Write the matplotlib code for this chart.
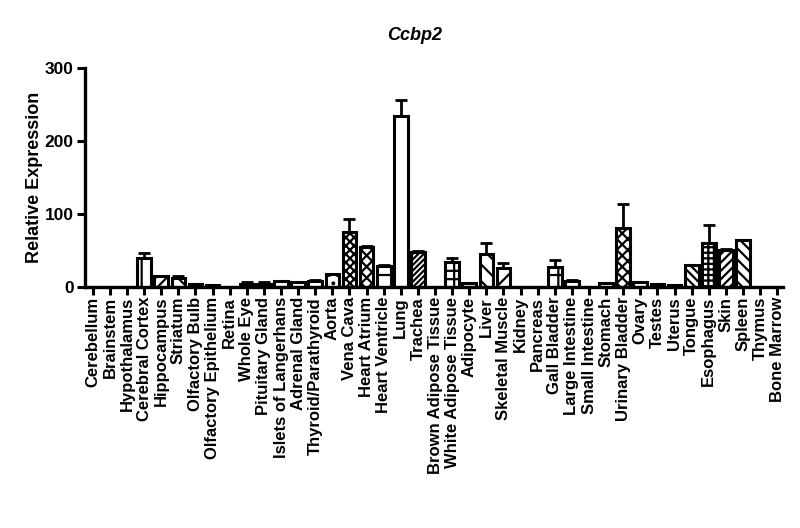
import matplotlib
matplotlib.use("Agg")
import matplotlib.pyplot as plt
import numpy as np

plt.rcParams['font.family'] = ['Liberation Sans', 'DejaVu Sans']
plt.rcParams['font.weight'] = 'bold'
plt.rcParams['hatch.linewidth'] = 1.6

# Data
tissues = ["Cerebellum", "Brainstem", "Hypothalamus", "Cerebral Cortex", "Hippocampus",
           "Striatum", "Olfactory Bulb", "Olfactory Epithelium", "Retina", "Whole Eye",
           "Pituitary Gland", "Islets of Langerhans", "Adrenal Gland", "Thyroid/Parathyroid",
           "Aorta", "Vena Cava", "Heart Atrium", "Heart Ventricle", "Lung", "Trachea",
           "Brown Adipose Tissue", "White Adipose Tissue", "Adipocyte", "Liver",
           "Skeletal Muscle", "Kidney", "Pancreas", "Gall Bladder", "Large Intestine",
           "Small Intestine", "Stomach", "Urinary Bladder", "Ovary", "Testes", "Uterus",
           "Tongue", "Esophagus", "Skin", "Spleen", "Thymus", "Bone Marrow"]
values = [0.5, 0.5, 0.5, 40, 15,
          13, 4, 2.5, 0.5, 5,
          4.5, 9, 7, 9,
          18, 75, 55, 29, 235, 48,
          0.5, 35, 6, 45,
          26, 0.3, 0.3, 28, 9,
          0.5, 6, 81, 7, 4, 3,
          30, 60, 51, 64, 0.5, 0.5]
errors = [0, 0, 0, 7, 0,
          2, 0, 0, 0, 2,
          2, 0, 0, 1.5,
          0, 18, 1, 2, 21, 2,
          0, 5, 0, 15,
          7, 0, 0, 9, 1,
          0, 0, 33, 0, 0, 0,
          0.5, 25, 1, 1, 0, 0]
hatches = ['', '', '', '|', '///',
           '\\\\', '', '', '', '',
           '', '', '', '',
           '..', 'xxxx', 'xxx', '-', '|', '//////',
           '', '++', '', '\\\\',
           '//', '', '', '+', '',
           '', '', 'xxx', '', '', '',
           '\\\\\\\\', '+++', '////', '\\\\\\', '', '']

x = np.arange(len(tissues))

fig = plt.figure(figsize=(8, 5.28), dpi=100)
ax = fig.add_axes([0.106, 0.456, 0.873, 0.415])

ax.bar(x, values, width=0.8, color='white', edgecolor='black', linewidth=2.2,
       hatch=hatches, zorder=2)
ax.errorbar(x, values, yerr=[np.zeros(len(errors)), errors], fmt='none',
            ecolor='black', elinewidth=2, capsize=4, capthick=2, zorder=1)

ax.set_xlim(-0.47, 40.35)
ax.set_ylim(0, 300)
ax.set_yticks([0, 100, 200, 300])
ax.set_xticks(x)
ax.set_xticklabels(tissues, rotation=90, fontsize=12, fontweight='bold')
ax.tick_params(axis='y', labelsize=12.5, width=2.2, length=6, direction='out', pad=2)
ax.tick_params(axis='x', width=2.2, length=6, direction='out', pad=1)
for lbl in ax.get_yticklabels():
    lbl.set_fontweight('bold')

for side in ['top', 'right']:
    ax.spines[side].set_visible(False)
for side in ['left', 'bottom']:
    ax.spines[side].set_linewidth(2.4)

ax.set_ylabel("Relative Expression", fontsize=13, fontweight='bold', labelpad=1)
fig.text(415 / 800, 1 - 35 / 528, "Ccbp2", fontsize=13, fontweight='bold',
         fontstyle='italic', ha='center', va='center')

fig.savefig("out.png", dpi=100)
